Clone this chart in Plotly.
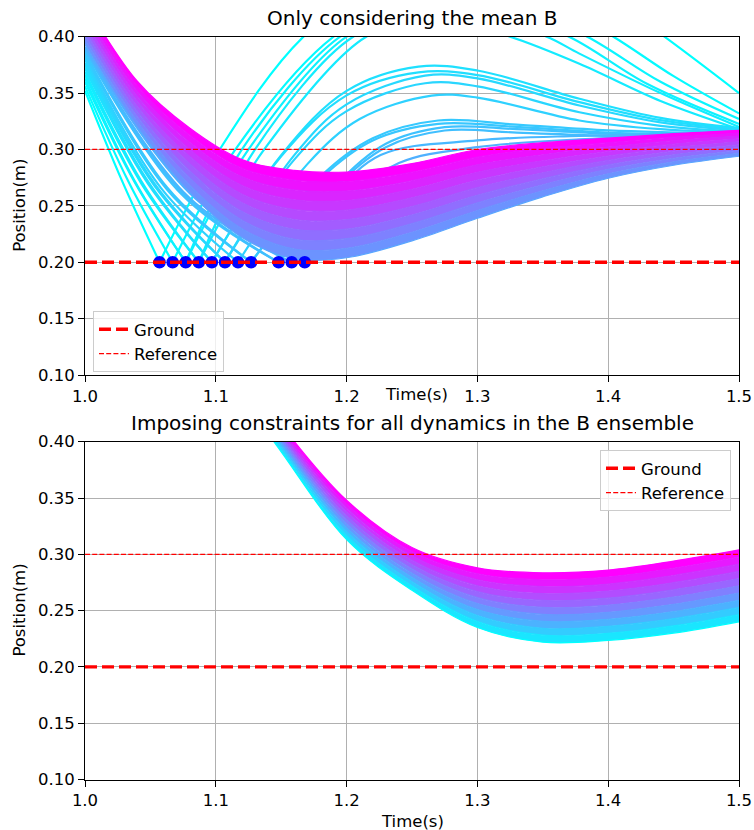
import plotly.graph_objects as go

W, H = 754, 830

# ---------------- shared axis data ----------------
x_ticks = [1.0, 1.1, 1.2, 1.3, 1.4, 1.5]
y_ticks = [0.10, 0.15, 0.20, 0.25, 0.30, 0.35, 0.40]
time_span = [1.0, 1.5]
ground_level = 0.2
reference_level = 0.3

# ---------------- top panel: ensemble members that hit the ground ----------------
fall_t0 = 1.0
fall_start = [0.352, 0.356, 0.360, 0.363, 0.366, 0.369, 0.372, 0.375, 0.377,
              0.380, 0.382, 0.384, 0.386, 0.388, 0.389, 0.390, 0.391]
fall_mid_t = [1.028, 1.033, 1.038, 1.038, 1.043, 1.043, 1.048, 1.048, 1.053,
              1.053, 1.058, 1.063, 1.063, 1.074, 1.074, 1.079, 1.084]
fall_mid_y = [0.273, 0.272, 0.271, 0.272, 0.270, 0.272, 0.270, 0.272, 0.268,
              0.270, 0.266, 0.264, 0.266, 0.260, 0.262, 0.258, 0.257]
impact_times = [1.057, 1.067, 1.077, 1.077, 1.087, 1.087, 1.097, 1.097, 1.107,
                1.107, 1.117, 1.127, 1.127, 1.148, 1.148, 1.158, 1.168]

bounce_t = [
    [1.057, 1.103, 1.167, 1.24, 1.305, 1.37, 1.443, 1.5],
    [1.067, 1.115, 1.19, 1.25, 1.30, 1.35, 1.404, 1.45, 1.5],
    [1.077, 1.12, 1.195, 1.25, 1.29, 1.33, 1.384, 1.44, 1.5],
    [1.077, 1.125, 1.20, 1.25, 1.285, 1.32, 1.37, 1.43, 1.5],
    [1.087, 1.13, 1.205, 1.25, 1.28, 1.31, 1.353, 1.378, 1.44, 1.5],
    [1.087, 1.137, 1.215, 1.25, 1.27, 1.29, 1.325, 1.378, 1.44, 1.5],
    [1.097, 1.15, 1.2, 1.255, 1.3, 1.378, 1.44, 1.5],
    [1.097, 1.15, 1.2, 1.255, 1.3, 1.378, 1.44, 1.5],
    [1.107, 1.16, 1.2, 1.26, 1.3, 1.378, 1.44, 1.5],
    [1.107, 1.16, 1.2, 1.26, 1.3, 1.378, 1.44, 1.5],
    [1.117, 1.17, 1.21, 1.265, 1.3, 1.378, 1.44, 1.5],
    [1.127, 1.18, 1.22, 1.27, 1.33, 1.4, 1.5],
    [1.127, 1.18, 1.22, 1.27, 1.33, 1.4, 1.5],
    [1.148, 1.19, 1.23, 1.275, 1.33, 1.4, 1.5],
    [1.148, 1.19, 1.23, 1.275, 1.33, 1.4, 1.5],
    [1.158, 1.19, 1.226, 1.3, 1.378, 1.5],
    [1.168, 1.2, 1.24, 1.3, 1.378, 1.5],
]
bounce_y = [
    [0.2, 0.30, 0.40, 0.46, 0.475, 0.46, 0.40, 0.350],
    [0.2, 0.30, 0.40, 0.435, 0.443, 0.435, 0.40, 0.365, 0.332],
    [0.2, 0.30, 0.40, 0.427, 0.432, 0.427, 0.40, 0.360, 0.327],
    [0.2, 0.30, 0.40, 0.42, 0.424, 0.42, 0.40, 0.358, 0.3227],
    [0.2, 0.30, 0.40, 0.415, 0.418, 0.415, 0.40, 0.385, 0.350, 0.320],
    [0.2, 0.30, 0.40, 0.41, 0.411, 0.41, 0.40, 0.376, 0.343, 0.318],
    [0.2, 0.295, 0.352, 0.3735, 0.370, 0.345, 0.328, 0.319],
    [0.2, 0.294, 0.348, 0.3684, 0.366, 0.342, 0.326, 0.318],
    [0.2, 0.295, 0.340, 0.3655, 0.363, 0.339, 0.324, 0.317],
    [0.2, 0.291, 0.334, 0.3587, 0.356, 0.333, 0.321, 0.316],
    [0.2, 0.287, 0.327, 0.3478, 0.346, 0.3257, 0.318, 0.315],
    [0.2, 0.276, 0.310, 0.3257, 0.322, 0.317, 0.314],
    [0.2, 0.274, 0.308, 0.3227, 0.320, 0.315, 0.313],
    [0.2, 0.266, 0.305, 0.3198, 0.318, 0.314, 0.312],
    [0.2, 0.2645, 0.302, 0.3168, 0.315, 0.312, 0.311],
    [0.2, 0.258, 0.295, 0.308, 0.312, 0.314],
    [0.2, 0.255, 0.288, 0.302, 0.309, 0.313],
]

# ---------------- top panel: ensemble members that stay above ground ----------------
band_a_t = [1.0, 1.04, 1.08, 1.12, 1.16, 1.2, 1.25, 1.3, 1.35, 1.4, 1.45, 1.5]
band_a_curves = [
    [0.393, 0.320, 0.262, 0.222, 0.203, 0.204, 0.219, 0.239, 0.258, 0.2745, 0.286, 0.294],
    [0.397, 0.3245, 0.2683, 0.2297, 0.2117, 0.2124, 0.2266, 0.2458, 0.2633, 0.2784, 0.2891, 0.2966],
    [0.401, 0.329, 0.2747, 0.2373, 0.2204, 0.2209, 0.2342, 0.2526, 0.2687, 0.2824, 0.2922, 0.2991],
    [0.405, 0.3335, 0.281, 0.245, 0.2292, 0.2293, 0.2418, 0.2593, 0.274, 0.2863, 0.2953, 0.3017],
    [0.409, 0.338, 0.2873, 0.2527, 0.2379, 0.2378, 0.2494, 0.2661, 0.2793, 0.2903, 0.2984, 0.3042],
    [0.4136, 0.3425, 0.2937, 0.2603, 0.2466, 0.2462, 0.2571, 0.2729, 0.2847, 0.2942, 0.3016, 0.3068],
    [0.418, 0.347, 0.300, 0.268, 0.2553, 0.2547, 0.2647, 0.2797, 0.290, 0.2982, 0.3047, 0.3094],
    [0.422, 0.3515, 0.3063, 0.2757, 0.2641, 0.2631, 0.2723, 0.2864, 0.2953, 0.3021, 0.3078, 0.3119],
    [0.426, 0.356, 0.3127, 0.2833, 0.2728, 0.2716, 0.2799, 0.2932, 0.3007, 0.306, 0.3109, 0.3144],
    [0.430, 0.3605, 0.319, 0.291, 0.2815, 0.280, 0.2875, 0.300, 0.306, 0.310, 0.314, 0.317],
]

# ---------------- bottom panel: constrained ensemble ----------------
band_b_t = [1.10, 1.12, 1.15, 1.20, 1.25, 1.30, 1.35, 1.40, 1.45, 1.50]
band_b_curves = [
    [0.475, 0.440, 0.391, 0.313, 0.268, 0.235, 0.222, 0.2235, 0.230, 0.240],
    [0.4775, 0.4425, 0.3934, 0.3165, 0.2718, 0.2403, 0.2282, 0.2298, 0.2364, 0.2464],
    [0.480, 0.445, 0.3958, 0.320, 0.2756, 0.2456, 0.2343, 0.236, 0.2428, 0.2528],
    [0.4825, 0.4475, 0.3982, 0.3235, 0.2794, 0.2509, 0.2405, 0.2423, 0.2492, 0.2592],
    [0.485, 0.450, 0.4006, 0.327, 0.2832, 0.2562, 0.2466, 0.2485, 0.2556, 0.2656],
    [0.4875, 0.4525, 0.403, 0.3305, 0.287, 0.2615, 0.2528, 0.2548, 0.262, 0.272],
    [0.490, 0.455, 0.4054, 0.334, 0.2908, 0.2668, 0.259, 0.261, 0.2684, 0.2784],
    [0.4925, 0.4575, 0.4078, 0.3375, 0.2946, 0.2721, 0.2651, 0.2673, 0.2748, 0.2848],
    [0.495, 0.460, 0.4102, 0.341, 0.2984, 0.2774, 0.2713, 0.2735, 0.2812, 0.2912],
    [0.4975, 0.4625, 0.4126, 0.3445, 0.3022, 0.2827, 0.2774, 0.2798, 0.2876, 0.2976],
    [0.500, 0.465, 0.415, 0.348, 0.306, 0.288, 0.2836, 0.286, 0.294, 0.304],
]

# ---------------- styles ----------------
impact_cmap_pos = [0.0, 0.02, 0.04, 0.05, 0.07, 0.08, 0.12, 0.13, 0.15, 0.16,
                   0.18, 0.21, 0.22, 0.24, 0.25, 0.28, 0.31]
FONT = "DejaVu Sans"
FS = 16.5


def cool(c):
    return "rgb(%d,%d,255)" % (round(255 * c), round(255 * (1 - c)))


fig = go.Figure()

# --- top panel: impacting members (fall + bounce) ---
for i in range(len(impact_times)):
    col = cool(impact_cmap_pos[i])
    fig.add_trace(go.Scatter(
        x=[fall_t0, fall_mid_t[i], impact_times[i]],
        y=[fall_start[i], fall_mid_y[i], ground_level],
        mode="lines", line=dict(color=col, width=2.2, shape="spline"),
        showlegend=False, hoverinfo="skip", xaxis="x", yaxis="y"))
    fig.add_trace(go.Scatter(
        x=bounce_t[i], y=bounce_y[i],
        mode="lines", line=dict(color=col, width=2.2, shape="spline"),
        showlegend=False, hoverinfo="skip", xaxis="x", yaxis="y"))

# --- top panel: non-impacting band ---
na = len(band_a_curves)
for k, ys in enumerate(band_a_curves):
    c = 0.35 + 0.65 * k / (na - 1)
    col = cool(c)
    fig.add_trace(go.Scatter(
        x=band_a_t, y=ys, mode="lines",
        line=dict(color=col, width=1.2, shape="spline"),
        fill="none" if k == 0 else "tonexty", fillcolor=col,
        showlegend=False, hoverinfo="skip", xaxis="x", yaxis="y"))

# --- top panel: impact markers ---
dot_times = sorted(set(impact_times))
fig.add_trace(go.Scatter(
    x=dot_times, y=[ground_level] * len(dot_times), mode="markers",
    marker=dict(color="#0000ff", size=12.5, line=dict(width=0)),
    showlegend=False, hoverinfo="skip", xaxis="x", yaxis="y"))

# --- bottom panel band ---
nb = len(band_b_curves)
for k, ys in enumerate(band_b_curves):
    c = k / (nb - 1)
    col = cool(c)
    fig.add_trace(go.Scatter(
        x=band_b_t, y=ys, mode="lines",
        line=dict(color=col, width=1.2, shape="spline"),
        fill="none" if k == 0 else "tonexty", fillcolor=col,
        showlegend=False, hoverinfo="skip", xaxis="x2", yaxis="y2"))

# --- ground and reference lines ---
for xa, ya, lg in [("x", "y", "legend"), ("x2", "y2", "legend2")]:
    fig.add_trace(go.Scatter(
        x=time_span, y=[ground_level] * 2, mode="lines", name="Ground",
        line=dict(color="#ff0000", width=3.3, dash="12px,5px"),
        xaxis=xa, yaxis=ya, legend=lg, hoverinfo="skip"))
    fig.add_trace(go.Scatter(
        x=time_span, y=[reference_level] * 2, mode="lines", name="Reference",
        line=dict(color="#ff0000", width=1.3, dash="5px,2.2px"),
        xaxis=xa, yaxis=ya, legend=lg, hoverinfo="skip"))

# ---------------- layout ----------------
xdom = [85 / W, 739 / W]
ydom_top = [1 - 375 / H, 1 - 36.7 / H]
ydom_bot = [1 - 779.5 / H, 1 - 441.7 / H]

axis_common = dict(
    showline=True, mirror=True, linecolor="black", linewidth=1,
    ticks="outside", ticklen=6, tickcolor="black", tickwidth=1,
    showgrid=True, gridcolor="#b0b0b0", gridwidth=1, zeroline=False,
    automargin=False,
    tickfont=dict(family=FONT, size=FS, color="black"),
)

legend_common = dict(
    bgcolor="rgba(255,255,255,0.8)", bordercolor="#cccccc", borderwidth=1,
    traceorder="normal", font=dict(family=FONT, size=FS, color="black"),
)

fig.update_layout(
    width=W, height=H,
    margin=dict(l=0, r=0, t=0, b=0, autoexpand=False),
    paper_bgcolor="white", plot_bgcolor="white",
    font=dict(family=FONT, size=FS, color="black"),
    xaxis=dict(domain=xdom, range=time_span, anchor="y",
               tickvals=x_ticks, tickformat=".1f", **axis_common),
    yaxis=dict(domain=ydom_top, range=[y_ticks[0], y_ticks[-1]], anchor="x",
               tickvals=y_ticks, tickformat=".2f", **axis_common),
    xaxis2=dict(domain=xdom, range=time_span, anchor="y2",
                tickvals=x_ticks, tickformat=".1f", **axis_common),
    yaxis2=dict(domain=ydom_bot, range=[y_ticks[0], y_ticks[-1]], anchor="x2",
                tickvals=y_ticks, tickformat=".2f", **axis_common),
    legend=dict(x=93 / W, y=1 - 311 / H, xanchor="left", yanchor="top", **legend_common),
    legend2=dict(x=731 / W, y=1 - 450 / H, xanchor="right", yanchor="top", **legend_common),
)

cx = (xdom[0] + xdom[1]) / 2
annotations = [
    dict(text="Only considering the mean B", x=cx, y=1 - 32 / H, xref="paper", yref="paper",
         xanchor="center", yanchor="bottom", showarrow=False,
         font=dict(family=FONT, size=20, color="black")),
    dict(text="Imposing constraints for all dynamics in the B ensemble", x=cx, y=1 - 437 / H,
         xref="paper", yref="paper", xanchor="center", yanchor="bottom", showarrow=False,
         font=dict(family=FONT, size=20, color="black")),
    dict(text="Time(s)", x=416 / W, y=1 - 394 / H, xref="paper", yref="paper",
         xanchor="center", yanchor="middle", showarrow=False,
         font=dict(family=FONT, size=FS, color="black")),
    dict(text="Time(s)", x=cx, y=1 - 821 / H, xref="paper", yref="paper",
         xanchor="center", yanchor="middle", showarrow=False,
         font=dict(family=FONT, size=FS, color="black")),
    dict(text="Position(m)", x=20 / W, y=(ydom_top[0] + ydom_top[1]) / 2, xref="paper", yref="paper",
         xanchor="center", yanchor="middle", textangle=-90, showarrow=False,
         font=dict(family=FONT, size=FS, color="black")),
    dict(text="Position(m)", x=20 / W, y=(ydom_bot[0] + ydom_bot[1]) / 2, xref="paper", yref="paper",
         xanchor="center", yanchor="middle", textangle=-90, showarrow=False,
         font=dict(family=FONT, size=FS, color="black")),
]
fig.update_layout(annotations=annotations)

fig.write_html("out.html")
